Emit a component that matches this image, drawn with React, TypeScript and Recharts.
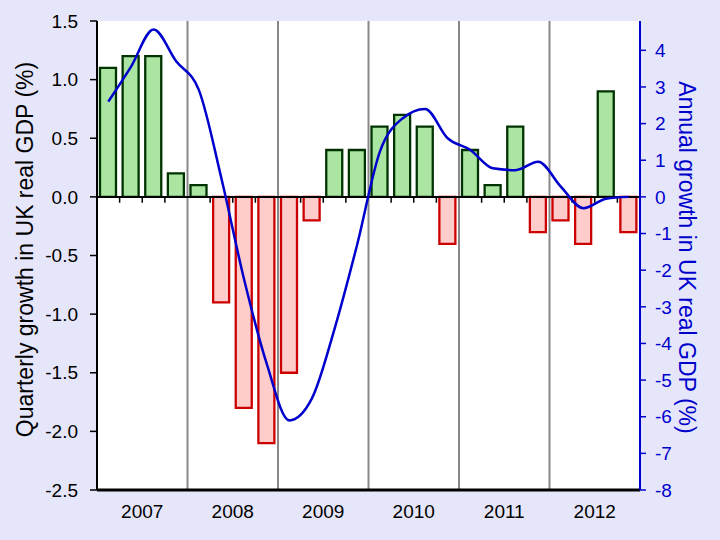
import React from "react";
import {
  ComposedChart,
  Bar,
  Cell,
  Line,
  XAxis,
  YAxis,
  CartesianGrid,
  ReferenceLine,
  Label,
} from "recharts";

// quarter labels, 2007 Q1 .. 2012 Q4
const quarters = [
  "2007 Q1", "2007 Q2", "2007 Q3", "2007 Q4",
  "2008 Q1", "2008 Q2", "2008 Q3", "2008 Q4",
  "2009 Q1", "2009 Q2", "2009 Q3", "2009 Q4",
  "2010 Q1", "2010 Q2", "2010 Q3", "2010 Q4",
  "2011 Q1", "2011 Q2", "2011 Q3", "2011 Q4",
  "2012 Q1", "2012 Q2", "2012 Q3", "2012 Q4",
];

// quarter-on-quarter growth (%), left axis
const quarterly = [
  1.1, 1.2, 1.2, 0.2,
  0.1, -0.9, -1.8, -2.1,
  -1.5, -0.2, 0.4, 0.4,
  0.6, 0.7, 0.6, -0.4,
  0.4, 0.1, 0.6, -0.3,
  -0.2, -0.4, 0.9, -0.3,
];

// year-on-year growth (%), right axis
const annual = [
  2.6, 3.55, 4.57, 3.7,
  2.92, 0.5, -2.25, -4.55,
  -6.1, -5.5, -3.6, -1.3,
  1.23, 2.14, 2.4, 1.6,
  1.28, 0.78, 0.73, 0.96,
  0.28, -0.31, -0.05, 0.0,
];

const years = ["2007", "2008", "2009", "2010", "2011", "2012"];
const leftTicks = [-2.5, -2.0, -1.5, -1.0, -0.5, 0.0, 0.5, 1.0, 1.5];
const rightTicks = [-8, -7, -6, -5, -4, -3, -2, -1, 0, 1, 2, 3, 4];

const data = quarters.map((q, i) => ({
  q,
  idx: i + 0.5,
  quarterly: quarterly[i],
  annual: annual[i],
}));

const yearCentres = years.map((_, i) => i * 4 + 2);
const yearBounds = years.slice(1).map((_, i) => (i + 1) * 4);
const quarterBounds = quarters
  .map((_, i) => i)
  .filter((i) => i > 0 && i % 4 !== 0);

const BLUE = "#0000cc";
const FONT = "'Liberation Sans', Arial, sans-serif";

function axisTitle(text: string, x: number, angle: number, color: string, dy: number) {
  return (props: any) => {
    const vb = props.viewBox;
    const cy = vb.y + vb.height / 2 + dy;
    return (
      <text
        x={x}
        y={cy}
        transform={`rotate(${angle}, ${x}, ${cy})`}
        textAnchor="middle"
        fill={color}
        fontSize={23}
        fontFamily={FONT}
      >
        {text}
      </text>
    );
  };
}

export default function App() {
  return (
    <div
      style={{
        position: "absolute",
        left: 0,
        top: 0,
        width: 720,
        height: 540,
        background: "#e6e6fa",
        fontFamily: FONT,
      }}
    >
      <ComposedChart
        width={720}
        height={540}
        data={data}
        margin={{ top: 21, right: 0, left: 0, bottom: 0 }}
      >
        <CartesianGrid
          xAxisId="yr"
          yAxisId="left"
          horizontal={false}
          vertical={false}
          fill="#ffffff"
          fillOpacity={1}
        />
        <XAxis xAxisId="q" dataKey="q" hide height={0} />
        <XAxis
          xAxisId="yr"
          dataKey="idx"
          type="number"
          domain={[0, 24]}
          allowDataOverflow
          ticks={yearCentres}
          tickFormatter={(v: number) => years[Math.floor(v / 4)]}
          height={50}
          tickSize={0}
          tickMargin={15}
          tickLine={false}
          axisLine={{ stroke: "#000", strokeWidth: 3 }}
          tick={{ fill: "#000", fontSize: 19, fontFamily: FONT }}
        />
        <YAxis
          yAxisId="left"
          orientation="left"
          width={97}
          domain={[-2.5, 1.5]}
          allowDataOverflow
          ticks={leftTicks}
          interval={0}
          tickFormatter={(v: number) => v.toFixed(1)}
          tickSize={7}
          tickMargin={12}
          axisLine={{ stroke: "#000", strokeWidth: 2 }}
          tickLine={{ stroke: "#000", strokeWidth: 1.5 }}
          tick={{ fill: "#000", fontSize: 19, fontFamily: FONT }}
        >
          <Label content={axisTitle("Quarterly growth in UK real GDP (%)", 33, -90, "#000", -6)} />
        </YAxis>
        <YAxis
          yAxisId="right"
          orientation="right"
          width={80}
          domain={[-8, 4.8]}
          allowDataOverflow
          ticks={rightTicks}
          interval={0}
          tickSize={6}
          tickMargin={9}
          axisLine={{ stroke: BLUE, strokeWidth: 2 }}
          tickLine={{ stroke: BLUE, strokeWidth: 1.5 }}
          tick={{ fill: BLUE, fontSize: 19, fontFamily: FONT }}
        >
          <Label content={axisTitle("Annual growth in UK real GDP (%)", 679, 90, BLUE, 2)} />
        </YAxis>

        {yearBounds.map((b) => (
          <ReferenceLine
            key={`y${b}`}
            xAxisId="yr"
            yAxisId="left"
            x={b}
            stroke="#888888"
            strokeWidth={2}
          />
        ))}

        <Bar
          xAxisId="q"
          yAxisId="left"
          dataKey="quarterly"
          barSize={16}
          strokeWidth={2.3}
          isAnimationActive={false}
        >
          {data.map((d) => (
            <Cell
              key={d.q}
              fill={d.quarterly >= 0 ? "#aae6a2" : "#ffcccc"}
              stroke={d.quarterly >= 0 ? "#003300" : "#cc0000"}
            />
          ))}
        </Bar>

        <ReferenceLine xAxisId="yr" yAxisId="left" y={0} stroke="#000" strokeWidth={2} />
        {quarterBounds.map((b) => (
          <ReferenceLine
            key={`t${b}`}
            xAxisId="yr"
            yAxisId="left"
            segment={[
              { x: b, y: 0 },
              { x: b, y: -0.05 },
            ]}
            stroke="#000"
            strokeWidth={1.5}
          />
        ))}

        <Line
          xAxisId="q"
          yAxisId="right"
          dataKey="annual"
          type="monotone"
          stroke={BLUE}
          strokeWidth={2.5}
          dot={false}
          activeDot={false}
          isAnimationActive={false}
        />
      </ComposedChart>
    </div>
  );
}
